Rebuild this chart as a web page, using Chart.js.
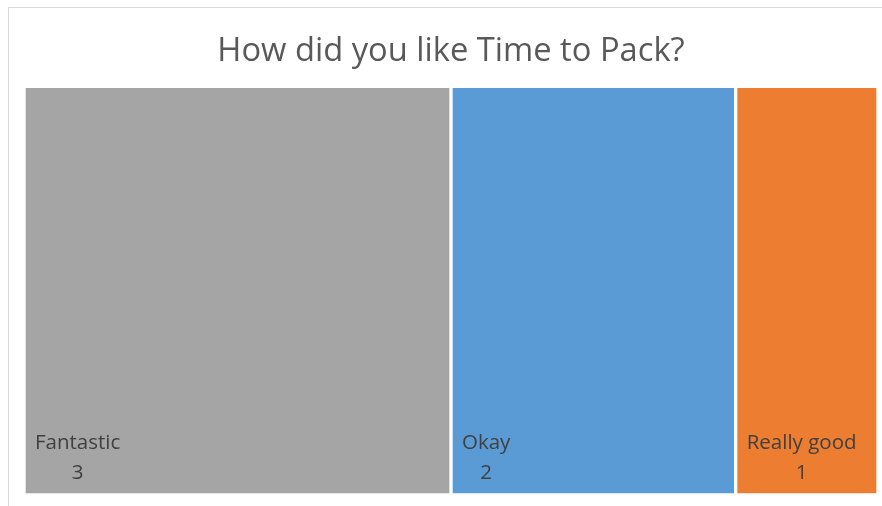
<!DOCTYPE html>
<html>
<head>
<meta charset="utf-8">
<script src="https://cdn.jsdelivr.net/npm/chart.js@4.4.0/dist/chart.umd.min.js"></script>
<style>
  html, body { margin: 0; padding: 0; background: #fff; overflow: hidden; }
  #frame {
    position: absolute; left: 8px; top: 7px; width: 900px; height: 520px;
    border-left: 1px solid #d9d9d9; border-top: 1px solid #d9d9d9;
  }
  #wrap { position: absolute; left: 0; top: 0; width: 882px; height: 506px; }
</style>
</head>
<body>
<div id="frame"></div>
<div id="wrap"><canvas id="treemap"></canvas></div>
<script>
// survey answers, one tile per answer sized by its count
var answerNames = ['Fantastic', 'Okay', 'Really good'];
var answerCounts = [3, 2, 1];
var tileColors = ['#a5a5a5', '#5b9bd5', '#ed7d31'];
var chartTitle = 'How did you like Time to Pack?';

var FONT = "'Open Sans', sans-serif";

// each answer becomes a stacked segment of one full-height bar
var datasets = [];
for (var i = 0; i < answerNames.length; i++) {
  datasets.push({
    label: answerNames[i],
    data: [answerCounts[i]],
    backgroundColor: tileColors[i],
    borderColor: '#ffffff',
    borderWidth: 2,
    borderSkipped: false,
    categoryPercentage: 1.0,
    barPercentage: 1.0
  });
}

var total = answerCounts.reduce(function(a, b) { return a + b; }, 0);

// name and count in the lower-left corner of every tile
var tileLabels = {
  id: 'tileLabels',
  afterDatasetsDraw: function(chart) {
    var ctx = chart.ctx;
    ctx.save();
    ctx.fillStyle = '#404040';
    ctx.font = '20.5px ' + FONT;
    ctx.textBaseline = 'alphabetic';
    chart.data.datasets.forEach(function(ds, di) {
      var bar = chart.getDatasetMeta(di).data[0];
      var left = Math.min(bar.x, bar.base);
      var bottom = bar.y + bar.height / 2;
      var name = ds.label;
      var value = String(ds.data[0]);
      var tx = left + 11;
      ctx.textAlign = 'left';
      ctx.fillText(name, tx, bottom - 46);
      var w = ctx.measureText(name).width;
      ctx.textAlign = 'center';
      ctx.fillText(value, tx + w / 2, bottom - 16);
    });
    ctx.restore();
  }
};

var chartCanvas = document.getElementById('treemap');
var newChart = new Chart(chartCanvas, {
  type: 'bar',
  data: { labels: [''], datasets: datasets },
  options: {
    indexAxis: 'y',
    responsive: true,
    maintainAspectRatio: false,
    animation: false,
    layout: { padding: { left: 24, right: 4, top: 0, bottom: 11 } },
    scales: {
      x: { stacked: true, min: 0, max: total, display: false },
      y: { stacked: true, display: false }
    },
    plugins: {
      legend: { display: false },
      tooltip: { enabled: false },
      title: {
        display: true,
        text: chartTitle,
        color: '#595959',
        font: { family: FONT, size: 32.7, weight: 'normal' },
        padding: { top: 32.5, bottom: 14.5 }
      }
    }
  },
  plugins: [tileLabels]
});
</script>
</body>
</html>
